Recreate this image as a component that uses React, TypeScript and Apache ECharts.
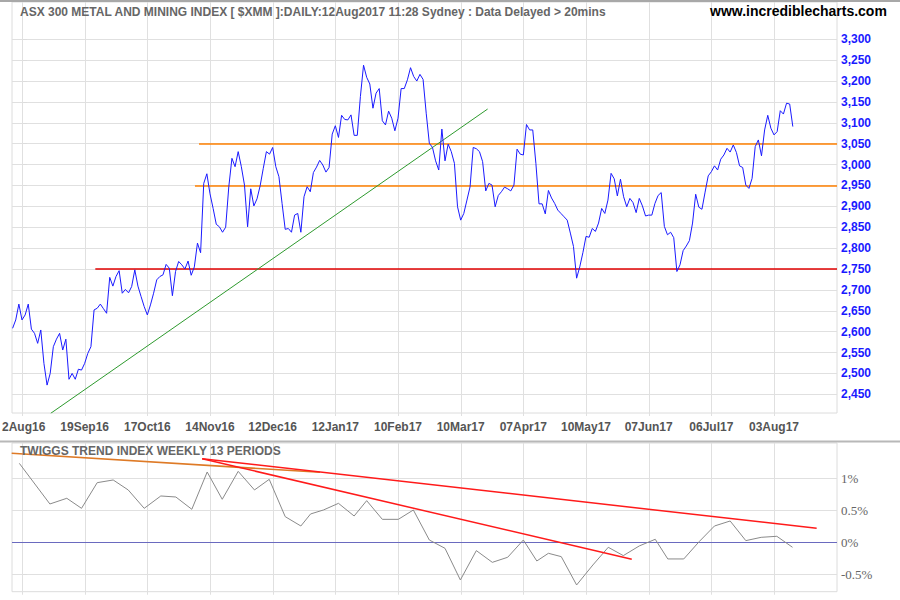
import React, { useEffect, useRef } from "react";
import * as echarts from "echarts";

// ---------- data ----------
const xLabelDays = [0, 20, 40, 60, 80, 100, 120, 140, 160, 180, 200, 220, 240];
const xLabels = ["2Aug16", "19Sep16", "17Oct16", "14Nov16", "12Dec16", "12Jan17", "10Feb17", "10Mar17", "07Apr17", "10May17", "07Jun17", "06Jul17", "03Aug17"];
const priceTicks = [2450, 2500, 2550, 2600, 2650, 2700, 2750, 2800, 2850, 2900, 2950, 3000, 3050, 3100, 3150, 3200, 3250, 3300];
const trendTicks = [-0.5, 0, 0.5, 1];

const priceStartDay = -3;
const priceValues = [
  2608, 2628, 2666, 2628, 2640, 2666, 2606, 2596, 2572, 2604,
  2524, 2472, 2500, 2564, 2582, 2596, 2556, 2582, 2486, 2500,
  2486, 2510, 2508, 2524, 2548, 2564, 2652, 2656, 2666, 2655,
  2644, 2730, 2709, 2732, 2746, 2692, 2701, 2693, 2708, 2748,
  2709, 2684, 2660, 2640, 2664, 2692, 2724, 2732, 2736, 2761,
  2752, 2686, 2744, 2768, 2760, 2750, 2769, 2735, 2755, 2812,
  2789, 2955, 2978, 2930, 2895, 2857, 2851, 2838, 2850, 2947,
  3015, 2995, 3031, 2995, 2951, 2851, 2942, 2901, 2918, 2949,
  2991, 3031, 3025, 3041, 2995, 2971, 2907, 2845, 2847, 2838,
  2879, 2883, 2838, 2923, 2947, 2935, 2981, 2994, 3010, 2999,
  2982, 2993, 3073, 3093, 3065, 3118, 3108, 3107, 3119, 3070,
  3070, 3163, 3238, 3209, 3193, 3135, 3171, 3182, 3105, 3095,
  3128, 3111, 3081, 3111, 3182, 3182, 3203, 3232, 3211, 3200,
  3216, 3204, 3123, 3051, 3041, 3009, 2987, 3085, 3009, 3049,
  3031, 3003, 2899, 2867, 2883, 2915, 2947, 3041, 3038, 3031,
  3007, 2937, 2955, 2951, 2899, 2926, 2935, 2946, 2942, 2937,
  2951, 3037, 3025, 3023, 3096, 3083, 3083, 3003, 2906, 2906,
  2882, 2938, 2920, 2907, 2891, 2883, 2875, 2867, 2836, 2804,
  2728, 2755, 2789, 2828, 2826, 2847, 2840, 2860, 2895, 2883,
  2915, 2979, 2966, 2925, 2965, 2923, 2899, 2919, 2909, 2885,
  2919, 2901, 2877, 2879, 2879, 2907, 2926, 2933, 2852, 2832,
  2838, 2825, 2744, 2760, 2794, 2805, 2818, 2860, 2929, 2898,
  2893, 2934, 2973, 2983, 2997, 2987, 3013, 3023, 3039, 3030,
  3047, 3029, 2997, 2993, 2951, 2943, 2967, 3043, 3059, 3021,
  3083, 3118, 3087, 3071, 3079, 3129, 3121, 3147, 3145, 3091,
];

const twiggsDays = [
  -0.85, 8.9, 14.3, 19.0, 24.0, 29.1, 33.9, 39.0, 44.3, 49.1, 54.2, 59.1, 63.9, 69.0, 74.2, 78.9,
  84.0, 89.0, 92.1, 96.2, 101, 106, 110, 115, 120.1, 124.9, 130, 135, 139.9, 145, 150.1, 155,
  160, 164.3, 168, 172.1, 177, 182.2, 187.1, 191.9, 197, 202.1, 206.1, 211.2, 216.1, 221, 226,
  231, 235.9, 240.9, 245.9,
];
const twiggsValues = [
  1.234, 0.599, 0.688, 0.531, 0.932, 0.974, 0.818, 0.531, 0.724, 0.708, 0.516, 1.099, 0.672, 1.109, 0.818, 0.984,
  0.401, 0.255, 0.443, 0.505, 0.609, 0.411, 0.651, 0.359, 0.359, 0.505, 0.036, -0.094, -0.589, -0.13, -0.313, -0.234,
  0.036, -0.292, -0.172, -0.224, -0.667, -0.354, -0.078, -0.208, -0.057, 0.047, -0.26, -0.26, 0.01, 0.255, 0.333,
  0.026, 0.078, 0.094, -0.078,
];

// horizontal support / resistance levels
const levelStarts = [56.5, 55.2, 23.4];
const levelValues = [3050, 2950, 2750];
const levelColors = ["#ff8000", "#ff8000", "#e00000"];

// trend lines [[day, value], [day, value]]
const priceTrend = [[9.16, 2404.4], [148.6, 3133]];
const twiggsOrangeTrend = [[-3.29, 1.39], [95.1, 1.094]];
const twiggsRedTrendA = [[57.5, 1.306], [253.6, 0.219]];
const twiggsRedTrendB = [[57.5, 1.306], [194.6, -0.266]];

// ---------- layout ----------
const GRID_LEFT = 12;
const GRID_RIGHT = 63;
const TOP_GRID_TOP = 2;
const TOP_GRID_H = 411;
const LOW_GRID_TOP = 443;
const LOW_GRID_H = 148.7;
const X_MIN = -3.19;
const X_MAX = 260.1;
const P_MIN = 2405.2;
const P_MAX = 3389.3;
const T_MIN = -0.772;
const T_MAX = 1.552;
const FONT = "'Liberation Sans', Arial, sans-serif";
const GRID_COLOR = "#e0e0e0";

export default function App() {
  const ref = useRef<HTMLDivElement>(null);

  useEffect(() => {
    if (!ref.current) return;
    const chart = echarts.init(ref.current, undefined, { renderer: "svg" });

    const priceData = priceValues.map((v, i) => [priceStartDay + i, v]);
    const twiggsData = twiggsDays.map((d, i) => [d, twiggsValues[i]]);

    const levelLines = levelValues.map((lv, i) => [
      { coord: [levelStarts[i], lv], lineStyle: { color: levelColors[i], width: 1.5, type: "solid" } },
      { coord: [X_MAX, lv] },
    ]);

    const baseGraphic: any[] = [
      { type: "rect", shape: { x: 0, y: 0, width: 900, height: 2 }, style: { fill: "#a8a8a8" }, z: 100 },
      { type: "rect", shape: { x: 0, y: 440.5, width: 900, height: 2 }, style: { fill: "#b8b8b8" }, z: 100 },
      {
        type: "text",
        x: 2,
        y: 427,
        z: 100,
        style: { text: xLabels[0], font: `bold 12px ${FONT}`, fill: "#555555", verticalAlign: "middle" },
      },
      {
        type: "text",
        x: 20,
        y: 12,
        z: 100,
        style: {
          text: "ASX 300 METAL AND MINING INDEX [ $XMM ]:DAILY:12Aug2017 11:28 Sydney : Data Delayed > 20mins",
          font: `bold 12px ${FONT}`,
          fill: "#666666",
          verticalAlign: "middle",
        },
      },
      {
        type: "text",
        x: 710,
        y: 11,
        z: 100,
        style: { text: "www.incrediblecharts.com", font: `bold 14px ${FONT}`, fill: "#000000", verticalAlign: "middle" },
      },
      {
        type: "text",
        x: 20,
        y: 451,
        z: 100,
        style: {
          text: "TWIGGS TREND INDEX WEEKLY 13 PERIODS",
          font: `bold 12px ${FONT}`,
          fill: "#666666",
          verticalAlign: "middle",
        },
      },
    ];

    const option: any = {
      animation: false,
      backgroundColor: "#ffffff",
      grid: [
        { left: GRID_LEFT, right: GRID_RIGHT, top: TOP_GRID_TOP, height: TOP_GRID_H, show: true, backgroundColor: "transparent", borderColor: "#dcdcdc", borderWidth: 1, containLabel: false, outerBoundsMode: "none" },
        { left: GRID_LEFT, right: GRID_RIGHT, top: LOW_GRID_TOP, height: LOW_GRID_H, show: true, backgroundColor: "transparent", borderColor: "#dcdcdc", borderWidth: 1, containLabel: false, outerBoundsMode: "none" },
      ],
      xAxis: [
        {
          type: "value",
          gridIndex: 0,
          min: X_MIN,
          max: X_MAX,
          axisLine: { show: false },
          axisTick: { show: false, customValues: xLabelDays },
          splitLine: { show: false },
          axisLabel: {
            customValues: xLabelDays,
            formatter: (v: number) => {
              const idx = xLabelDays.indexOf(Math.round(v));
              return idx > 0 ? xLabels[idx] : "";
            },
            color: "#555555",
            fontWeight: "bold",
            fontSize: 12,
            fontFamily: FONT,
            margin: 8,
          },
        },
        {
          type: "value",
          gridIndex: 1,
          min: X_MIN,
          max: X_MAX,
          axisLine: { show: false },
          axisTick: { show: false, customValues: xLabelDays },
          splitLine: { show: false },
          axisLabel: { show: false, customValues: xLabelDays },
        },
      ],
      yAxis: [
        {
          type: "value",
          gridIndex: 0,
          position: "right",
          min: P_MIN,
          max: P_MAX,
          axisLine: { show: false },
          axisTick: { show: true, length: 5, customValues: priceTicks, lineStyle: { color: "#dcdcdc" } },
          splitLine: { show: true, lineStyle: { color: GRID_COLOR, width: 1 } },
          axisLabel: {
            customValues: priceTicks,
            formatter: (v: number) => {
              const s = String(Math.round(v));
              return s.slice(0, 1) + "," + s.slice(1);
            },
            color: "#1a1aff",
            fontWeight: "bold",
            fontSize: 12,
            fontFamily: FONT,
            margin: 4,
          },
        },
        {
          type: "value",
          gridIndex: 1,
          position: "right",
          min: T_MIN,
          max: T_MAX,
          axisLine: { show: false },
          axisTick: { show: true, length: 5, customValues: trendTicks, lineStyle: { color: "#dcdcdc" } },
          splitLine: { show: true, lineStyle: { color: GRID_COLOR, width: 1 } },
          axisLabel: {
            customValues: trendTicks,
            formatter: (v: number) => `${v}%`,
            color: "#666666",
            fontSize: 13,
            fontFamily: "'Liberation Serif', 'Times New Roman', serif",
            margin: 4,
          },
        },
      ],
      series: [
        {
          name: "XMM",
          type: "line",
          xAxisIndex: 0,
          yAxisIndex: 0,
          data: priceData,
          showSymbol: false,
          symbol: "none",
          z: 5,
          lineStyle: { color: "#1a1aff", width: 1 },
          markLine: {
            silent: true,
            symbol: ["none", "none"],
            label: { show: false },
            z: 3,
            data: levelLines,
          },
        },
        {
          name: "trend",
          type: "line",
          xAxisIndex: 0,
          yAxisIndex: 0,
          data: priceTrend,
          showSymbol: false,
          symbol: "none",
          z: 4,
          lineStyle: { color: "#2e9a2e", width: 1 },
        },
        {
          name: "Twiggs",
          type: "line",
          xAxisIndex: 1,
          yAxisIndex: 1,
          data: twiggsData,
          showSymbol: false,
          symbol: "none",
          z: 5,
          lineStyle: { color: "#8a8a8a", width: 1 },
          markLine: {
            silent: true,
            symbol: ["none", "none"],
            label: { show: false },
            lineStyle: { color: "#6a6abf", width: 1, type: "solid" },
            data: [{ yAxis: 0 }],
          },
        },
        {
          type: "line",
          xAxisIndex: 1,
          yAxisIndex: 1,
          data: twiggsOrangeTrend,
          showSymbol: false,
          symbol: "none",
          z: 4,
          lineStyle: { color: "#de7a26", width: 1.5 },
        },
        {
          type: "line",
          xAxisIndex: 1,
          yAxisIndex: 1,
          data: twiggsRedTrendA,
          showSymbol: false,
          symbol: "none",
          z: 6,
          lineStyle: { color: "#ff1a1a", width: 1.5 },
        },
        {
          type: "line",
          xAxisIndex: 1,
          yAxisIndex: 1,
          data: twiggsRedTrendB,
          showSymbol: false,
          symbol: "none",
          z: 6,
          lineStyle: { color: "#ff1a1a", width: 1.5 },
        },
      ],
      graphic: baseGraphic,
    };

    chart.setOption(option);

    // vertical grid lines: positions taken from the x axis scale, drawn as 1px rects
    const vRects: any[] = [];
    xLabelDays.forEach((d) => {
      const px = Math.round(chart.convertToPixel({ xAxisIndex: 0 }, d) as number);
      vRects.push({
        type: "rect",
        silent: true,
        z: 1,
        shape: { x: px, y: TOP_GRID_TOP, width: 1, height: TOP_GRID_H + 3 },
        style: { fill: GRID_COLOR },
      });
      vRects.push({
        type: "rect",
        silent: true,
        z: 1,
        shape: { x: px, y: LOW_GRID_TOP, width: 1, height: LOW_GRID_H + 3 },
        style: { fill: GRID_COLOR },
      });
    });
    chart.setOption({ graphic: [...baseGraphic, ...vRects] });

    return () => chart.dispose();
  }, []);

  return (
    <div
      ref={ref}
      style={{ position: "fixed", left: 0, top: 0, width: 900, height: 600, background: "#fff" }}
    />
  );
}
